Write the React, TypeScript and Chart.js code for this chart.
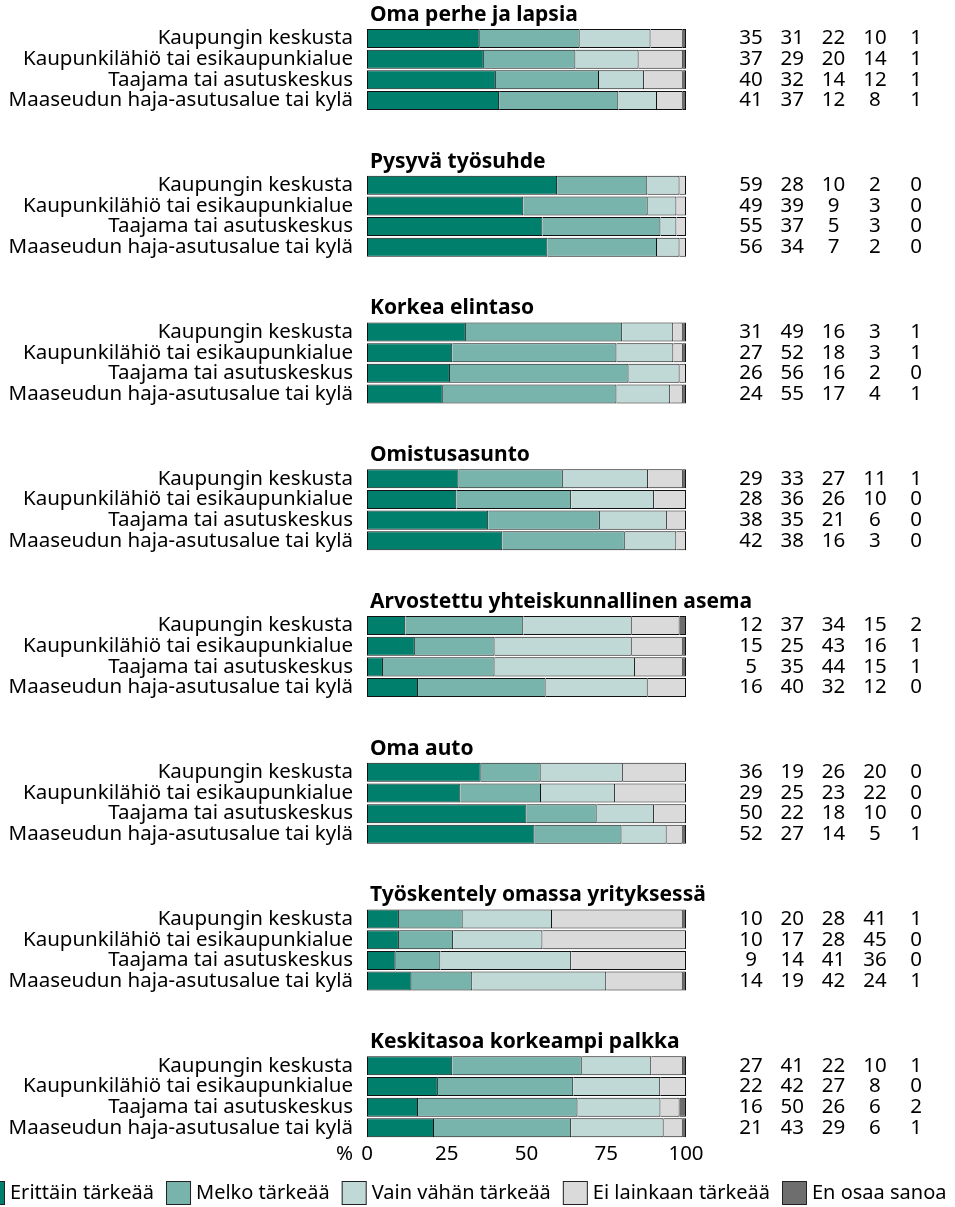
import React, { useEffect, useRef } from "react";
import { Chart, registerables } from "chart.js";

Chart.register(...registerables);

// ---------- data ----------
const groupTitles = [
  "Oma perhe ja lapsia",
  "Pysyvä työsuhde",
  "Korkea elintaso",
  "Omistusasunto",
  "Arvostettu yhteiskunnallinen asema",
  "Oma auto",
  "Työskentely omassa yrityksessä",
  "Keskitasoa korkeampi palkka",
];
const areaLabels = [
  "Kaupungin keskusta",
  "Kaupunkilähiö tai esikaupunkialue",
  "Taajama tai asutuskeskus",
  "Maaseudun haja-asutusalue tai kylä",
];
const seriesNames = [
  "Erittäin tärkeää",
  "Melko tärkeää",
  "Vain vähän tärkeää",
  "Ei lainkaan tärkeää",
  "En osaa sanoa",
];
const erittain = [35, 37, 40, 41, 59, 49, 55, 56, 31, 27, 26, 24, 29, 28, 38, 42, 12, 15, 5, 16, 36, 29, 50, 52, 10, 10, 9, 14, 27, 22, 16, 21];
const melko = [31, 29, 32, 37, 28, 39, 37, 34, 49, 52, 56, 55, 33, 36, 35, 38, 37, 25, 35, 40, 19, 25, 22, 27, 20, 17, 14, 19, 41, 42, 50, 43];
const vainVahan = [22, 20, 14, 12, 10, 9, 5, 7, 16, 18, 16, 17, 27, 26, 21, 16, 34, 43, 44, 32, 26, 23, 18, 14, 28, 28, 41, 42, 22, 27, 26, 29];
const eiLainkaan = [10, 14, 12, 8, 2, 3, 3, 2, 3, 3, 2, 4, 11, 10, 6, 3, 15, 16, 15, 12, 20, 22, 10, 5, 41, 45, 36, 24, 10, 8, 6, 6];
const enOsaa = [1, 1, 1, 1, 0, 0, 0, 0, 1, 1, 0, 1, 1, 0, 0, 0, 2, 1, 1, 0, 0, 0, 0, 1, 1, 0, 0, 1, 1, 0, 2, 1];
const xTicks = [0, 25, 50, 75, 100];

// ---------- styles ----------
const seriesColors = ["#007F6D", "#79B4AC", "#C1D9D6", "#DADADA", "#6E6E6E"];
const FONT = '"Noto Sans", "Open Sans", sans-serif';
const LABEL_SIZE = 20.5;
const LEGEND_SIZE = 20;
const GROUP_STEP = 7.1;
const TITLE_OFFSET = -1.14;
const NUM_X0 = 751;
const NUM_DX = 41.3;

const series = [erittain, melko, vainVahan, eiLainkaan, enOsaa];
const rowPos = (i: number) => Math.floor(i / 4) * GROUP_STEP + (i % 4);
const rowTotal = (i: number) => series.reduce((s, arr) => s + arr[i], 0);
const positions = erittain.map((_, i) => rowPos(i));

const overlayPlugin = {
  id: "overlay",
  afterDraw(chart: any) {
    const ctx = chart.ctx;
    const ys = chart.scales.y;
    const xs = chart.scales.x;
    const area = chart.chartArea;
    ctx.save();
    // group titles
    ctx.fillStyle = "#000";
    ctx.font = `bold 21px ${FONT}`;
    ctx.textAlign = "left";
    ctx.textBaseline = "middle";
    groupTitles.forEach((t, g) => {
      ctx.fillText(t, area.left + 3, ys.getPixelForValue(g * GROUP_STEP + TITLE_OFFSET));
    });
    // numbers
    ctx.font = `${LABEL_SIZE}px ${FONT}`;
    ctx.textAlign = "center";
    erittain.forEach((_, i) => {
      const y = ys.getPixelForValue(rowPos(i));
      series.forEach((arr, s) => {
        ctx.fillText(String(arr[i]), NUM_X0 + s * NUM_DX, y);
      });
    });
    // % label
    ctx.textAlign = "right";
    ctx.fillText("%", area.left - 14, xs.top + 3 + LABEL_SIZE * 0.6);
    // legend
    ctx.font = `${LEGEND_SIZE}px ${FONT}`;
    ctx.textAlign = "left";
    const boxW = 25, boxH = 24, gapText = 5, gapItem = 12;
    let x = 10 - gapText - boxW;
    const ly = 1193;
    seriesNames.forEach((n, s) => {
      const w = ctx.measureText(n).width;
      ctx.fillStyle = seriesColors[s];
      ctx.fillRect(x, ly - boxH / 2, boxW, boxH);
      ctx.strokeStyle = "#222";
      ctx.lineWidth = 1;
      ctx.strokeRect(x + 0.5, ly - boxH / 2 + 0.5, boxW - 1, boxH - 1);
      ctx.fillStyle = "#000";
      ctx.fillText(n, x + boxW + gapText, ly);
      x += boxW + gapText + w + gapItem;
    });
    ctx.restore();
  },
};

export default function App() {
  const ref = useRef<HTMLCanvasElement | null>(null);
  useEffect(() => {
    if (!ref.current) return;
    const chart = new Chart(ref.current, {
      type: "bar",
      data: {
        datasets: series.map((vals, s) => ({
          label: seriesNames[s],
          data: vals.map((v, i) => ({ x: (v / rowTotal(i)) * 100, y: rowPos(i) })),
          backgroundColor: seriesColors[s],
          borderColor: "#111",
          borderWidth: 1,
          borderSkipped: s === 0 ? false : "start",
          categoryPercentage: 0.92,
          barPercentage: 1,
        })),
      } as any,
      options: {
        indexAxis: "y",
        animation: false,
        responsive: false,
        devicePixelRatio: 1,
        layout: { padding: { top: 0, right: 269, bottom: 40, left: 0 } },
        plugins: { legend: { display: false }, tooltip: { enabled: false } },
        scales: {
          x: {
            type: "linear",
            position: "bottom",
            min: 0,
            max: 100,
            stacked: true,
            offset: false,
            afterBuildTicks: (scale: any) => {
              scale.ticks = xTicks.map((v) => ({ value: v }));
            },
            afterFit: (scale: any) => {
              scale.height = 28;
            },
            ticks: { color: "#000", font: { family: FONT, size: LABEL_SIZE }, padding: 3, autoSkip: false, maxRotation: 0 },
            grid: { display: false, drawTicks: false },
            border: { display: false },
          },
          y: {
            type: "linear",
            reverse: true,
            offset: false,
            min: -0.59,
            max: 53.24,
            stacked: true,
            afterBuildTicks: (scale: any) => {
              scale.ticks = positions.map((v) => ({ value: v }));
            },
            afterFit: (scale: any) => {
              scale.width = 367;
            },
            ticks: {
              autoSkip: false,
              padding: 14,
              color: "#000",
              font: { family: FONT, size: LABEL_SIZE },
              callback: (_v: any, i: number) => areaLabels[i % 4],
            },
            grid: { display: false, drawTicks: false },
            border: { display: false },
          },
        },
      } as any,
      plugins: [overlayPlugin],
    });
    return () => chart.destroy();
  }, []);
  return (
    <div style={{ position: "absolute", left: 0, top: 0, width: 955, height: 1207, background: "#fff" }}>
      <canvas ref={ref} width={955} height={1207} style={{ width: 955, height: 1207, display: "block" }} />
    </div>
  );
}
